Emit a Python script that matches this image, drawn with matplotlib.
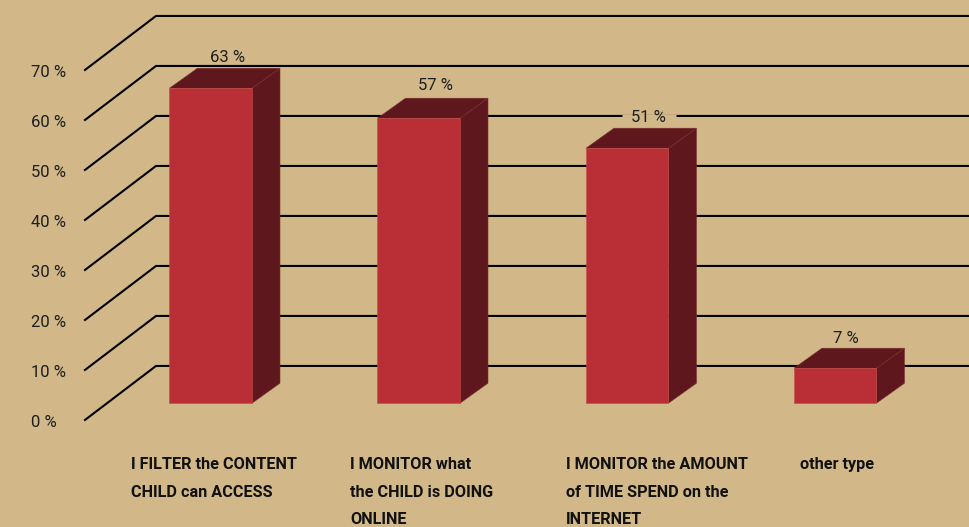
import matplotlib
matplotlib.use("Agg")
import matplotlib.pyplot as plt
from matplotlib.patches import Polygon

# Survey results: how parents supervise their child's internet use
categories = [
    "I FILTER the CONTENT\nCHILD can ACCESS",
    "I MONITOR what\nthe CHILD is DOING\nONLINE",
    "I MONITOR the AMOUNT\nof TIME SPEND on the\nINTERNET",
    "other type",
]
values = [63, 57, 51, 7]
value_labels = ["63 %", "57 %", "51 %", "7 %"]
grid_values = [0, 10, 20, 30, 40, 50, 60, 70]
tick_labels = ["0 %", "10 %", "20 %", "30 %", "40 %", "50 %", "60 %", "70 %"]

BG = "#D2B889"
FRONT = "#BA2F36"
DARK = "#5E171C"
EDGE_FRONT = "#C04A4C"
EDGE_DARK = "#7A3030"
FONT = "Roboto"

W, H = 970, 527
fig = plt.figure(figsize=(W / 100, H / 100), dpi=100, facecolor=BG)
ax = fig.add_axes([0, 0, 1, 1])
ax.set_facecolor(BG)

# x runs in pixels; y runs in percent with the front floor at 403.2 px and 5 px per percent
px_per_unit = 5.0
floor_px = 403.2
ax.set_xlim(0, W)
ax.set_ylim((floor_px - H) / px_per_unit, floor_px / px_per_unit)
ax.axis("off")

# Oblique depth of the 3D projection
depth_x = 28
depth_y = 20 / px_per_unit
back_floor = 7.45      # back wall baseline above the front floor
tip_drop = 3.35        # left tip of the wall lines below the front floor
tip_x, wall_x = 85, 156

for v, lab in zip(grid_values, tick_labels):
    ax.plot([tip_x, wall_x, W], [v - tip_drop, v + back_floor, v + back_floor],
            color="black", lw=1.5, solid_joinstyle="miter", zorder=1)
    ax.text(31, v - 3.9, lab, family=FONT, fontsize=12, color="#1E1E1E",
            ha="left", va="center", zorder=5)

bar_left = [169.5, 377.5, 586, 794]
bar_width = 82.5
label_x = [227.5, 436, 648, 846]
label_lift = [2.1, 2.5, 2.1, 1.9]
for i, v in enumerate(values):
    x0, x1 = bar_left[i], bar_left[i] + bar_width
    ax.add_patch(Polygon([(x1, 0), (x1 + depth_x, depth_y), (x1 + depth_x, v + depth_y), (x1, v)],
                         fc=DARK, ec=EDGE_DARK, lw=0.4, zorder=2))
    ax.add_patch(Polygon([(x0, v), (x1, v), (x1 + depth_x, v + depth_y), (x0 + depth_x, v + depth_y)],
                         fc=DARK, ec=EDGE_DARK, lw=0.4, zorder=2))
    ax.add_patch(Polygon([(x0, 0), (x1, 0), (x1, v), (x0, v)],
                         fc=FRONT, ec=EDGE_FRONT, lw=0.4, zorder=3))
    ax.text(label_x[i], v + depth_y + label_lift[i], value_labels[i], family=FONT, fontsize=12,
            color="#1E1E1E", ha="center", va="center", zorder=5)

# The wall line running through the 51 % label is broken around the text
ax.plot([622, 676], [50 + back_floor] * 2, color=BG, lw=2.5, solid_capstyle="butt", zorder=1.5)

# Category captions, one text per line on a fixed leading
caption_x = [131, 350, 566, 800]
line_y = [-12.2, -17.9, -23.3]
for x, cat in zip(caption_x, categories):
    for y, line in zip(line_y, cat.split("\n")):
        ax.text(x, y, line, family=FONT, fontsize=11.7, fontweight="bold",
                color="#111111", ha="left", va="center", zorder=5)

fig.savefig("out.png", dpi=100, facecolor=BG)
